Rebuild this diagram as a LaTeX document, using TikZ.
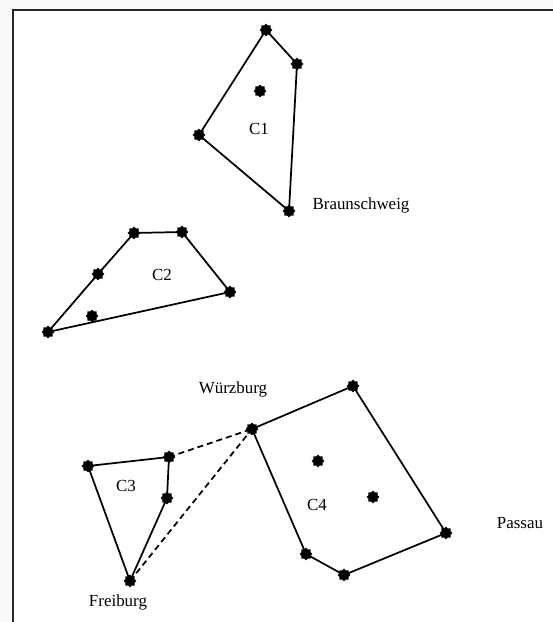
\documentclass[tikz,border=0pt]{standalone}
\usepackage{fontspec}
\setmainfont{Liberation Serif}
\usetikzlibrary{shapes.geometric}
\definecolor{paper}{RGB}{248,249,248}
\begin{document}
\begin{tikzpicture}[x=0.75pt,y=-0.75pt,
  site/.style={star, star points=8, star point ratio=1.3, fill=black,
    draw=none, inner sep=0pt, minimum size=9.6pt},
  hull/.style={line width=1.3pt, line join=round},
  link/.style={line width=1.3pt, dash pattern=on 4.5pt off 3pt},
  lbl/.style={font=\fontsize{12.7}{14}\selectfont, inner sep=0pt}]
% page and frame
\fill[paper] (0,0) rectangle (553,622);
\useasboundingbox (0,0) rectangle (553,622);
\fill[white] (13,10) rectangle (560,630);
\draw[line width=1.2pt, black!85] (13,630) -- (13,10) -- (560,10);

% cluster C1
\node[site] (a1) at (266,30) {};
\node[site] (a2) at (297,64) {};
\node[site] (a3) at (289,211) {};
\node[site] (a4) at (199,135) {};
\node[site] (a5) at (260,91) {};
\draw[hull] (a1.center) -- (a2.center) -- (a3.center) -- (a4.center) -- cycle;
\node[lbl] (c1) at (259,129) {C1};
\node[lbl] (bs) at (361,205) {Braunschweig};

% cluster C2
\node[site] (b1) at (48,332) {};
\node[site] (b2) at (98,274) {};
\node[site] (b3) at (134,233) {};
\node[site] (b4) at (182,232) {};
\node[site] (b5) at (230,292) {};
\node[site] (b6) at (92,316) {};
\draw[hull] (b1.center) -- (b2.center) -- (b3.center) -- (b4.center) -- (b5.center) -- cycle;
\node[lbl] (c2) at (162,275) {C2};

% cluster C3
\node[site] (d1) at (88,466) {};
\node[site] (d2) at (169,457) {};
\node[site] (d3) at (167,498) {};
\node[site] (d4) at (130,581) {};
\draw[hull] (d1.center) -- (d2.center) -- (d3.center) -- (d4.center) -- cycle;
\node[lbl] (c3) at (126,486) {C3};
\node[lbl] (fr) at (118,602) {Freiburg};

% cluster C4
\node[site] (e1) at (252,429) {};
\node[site] (e2) at (353,386) {};
\node[site] (e3) at (446,533) {};
\node[site] (e4) at (344,575) {};
\node[site] (e5) at (306,554) {};
\node[site] (e6) at (318,461) {};
\node[site] (e7) at (373,497) {};
\draw[hull] (e1.center) -- (e2.center) -- (e3.center) -- (e4.center) -- (e5.center) -- cycle;
\node[lbl] (c4) at (317,505) {C4};
\node[lbl] (wu) at (233,389) {Würzburg};
\node[lbl] (pa) at (520,523) {Passau};

% links between C3 and C4
\draw[link] (d2.center) -- (e1.center);
\draw[link] (d4.center) -- (e1.center);
\end{tikzpicture}
\end{document}
